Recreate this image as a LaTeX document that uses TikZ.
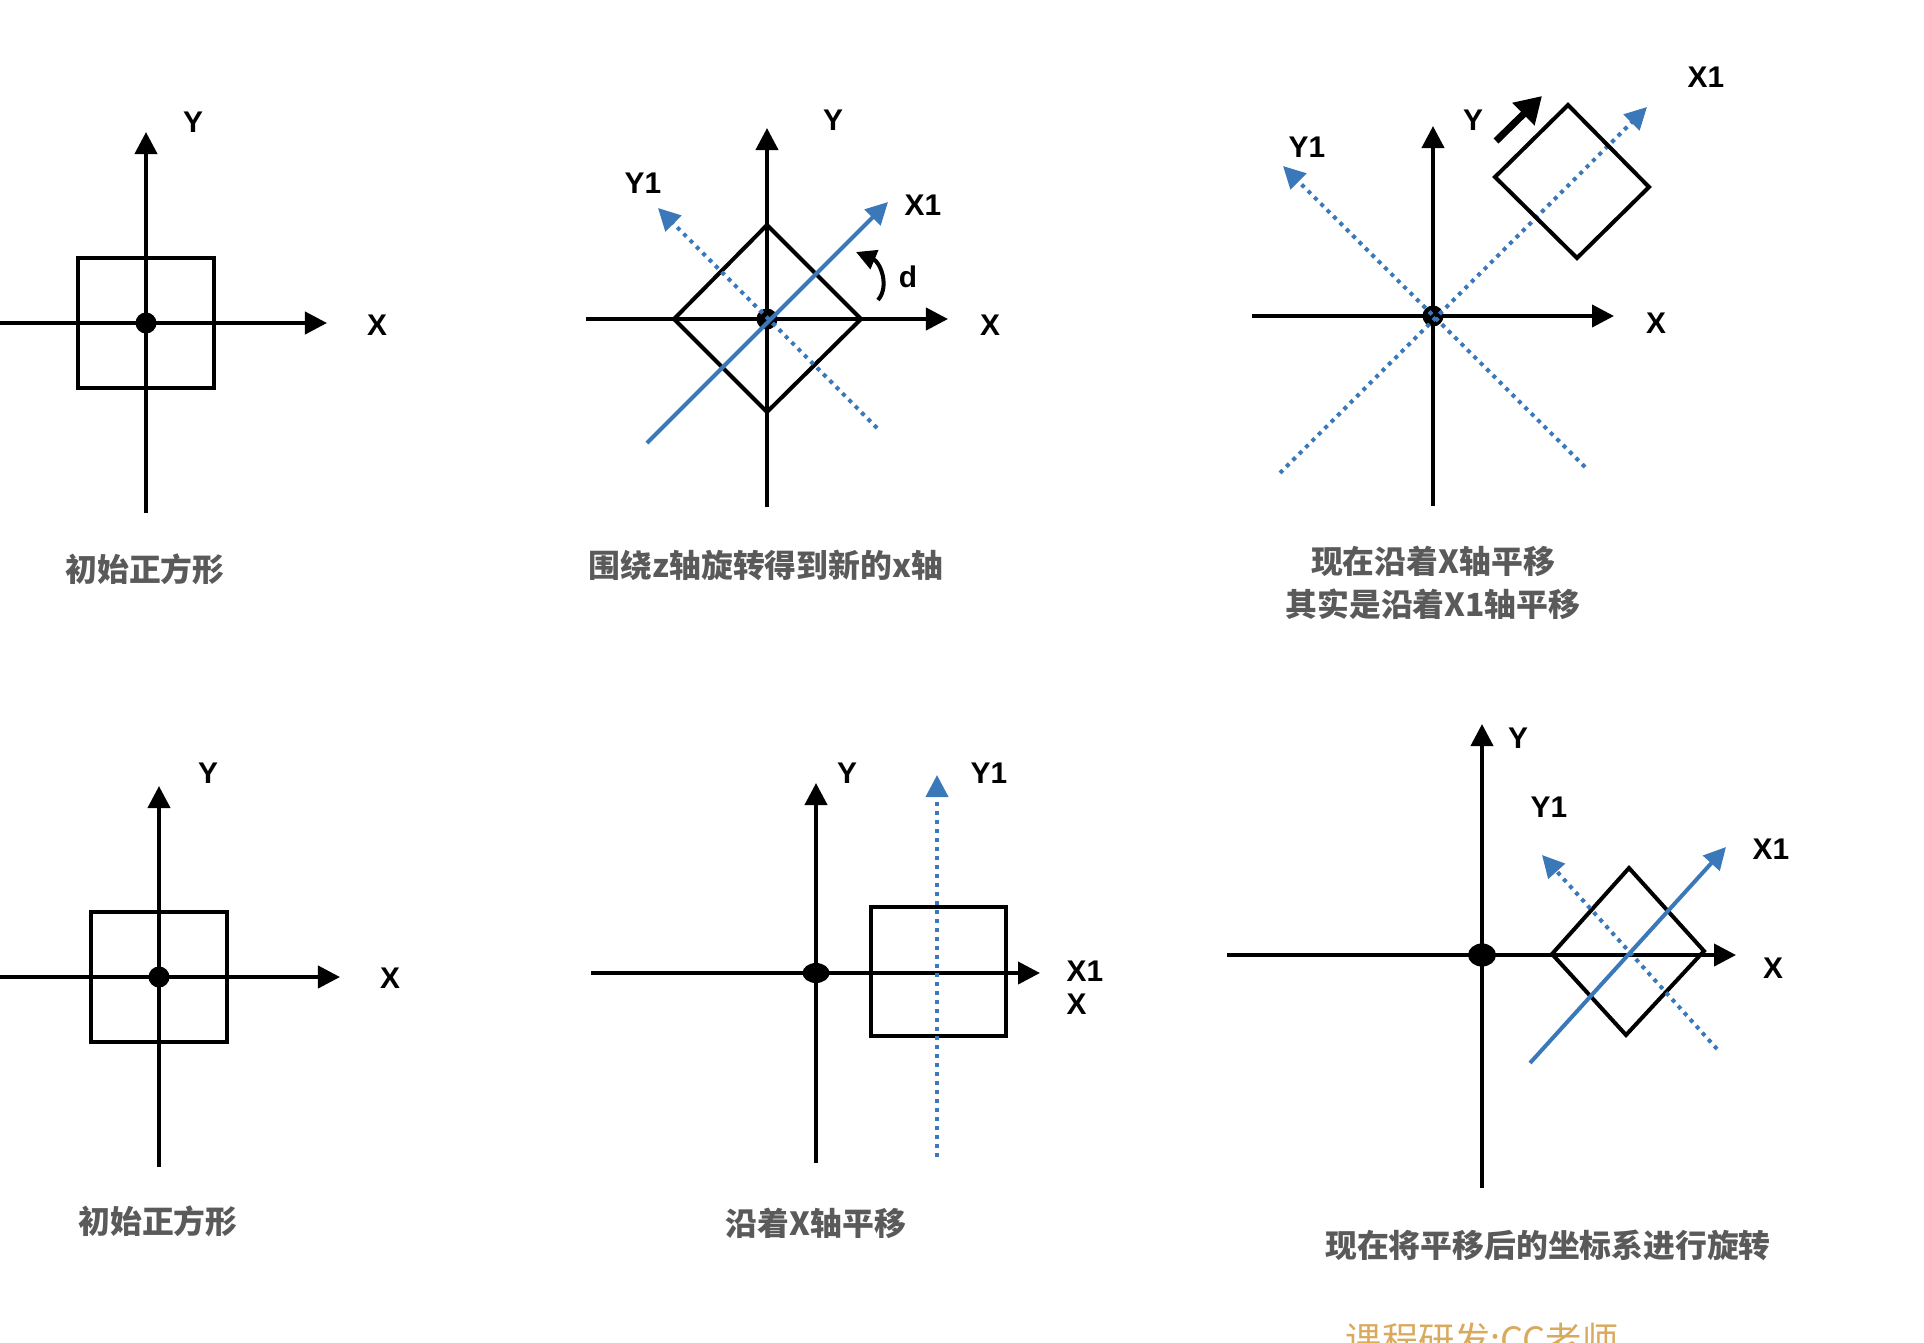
\documentclass[tikz,border=0pt]{standalone}
\usepackage{fontspec}
\setmainfont{Liberation Sans}
\newfontfamily\cjk{Noto Sans CJK SC}
\usepackage{xcolor}
\usetikzlibrary{arrows.meta, positioning, calc, shapes.geometric}
\definecolor{axisblue}{HTML}{3B78BA}
\definecolor{captiongray}{HTML}{5A5A5A}
\definecolor{creditgold}{HTML}{D9AA5E}

\begin{document}
\begin{tikzpicture}[x=0.01cm, y=-0.01cm,
    axis/.style={line width=0.04cm, -{Triangle[length=0.22cm, width=0.22cm]}},
    sq/.style={draw, line width=0.04cm, inner sep=0pt, minimum width=1.36cm, minimum height=1.29cm},
    edgeline/.style={line width=0.04cm, line join=miter},
    newaxis/.style={line width=0.04cm, axisblue, -{Triangle[length=0.22cm, width=0.22cm]}},
    dotaxis/.style={newaxis, dash pattern=on 0.04cm off 0.05cm},
    origin/.style={circle, fill=black, inner sep=0pt, minimum size=0.21cm},
    flatorigin/.style={ellipse, fill=black, inner sep=0pt, minimum width=0.27cm, minimum height=0.2cm},
    lbl/.style={font=\fontsize{8.5}{10}\selectfont\bfseries, inner sep=0pt},
    caption/.style={font=\cjk\bfseries\fontsize{9.05}{12.3}\selectfont, text=captiongray, inner sep=0pt, align=center}]

    \useasboundingbox (0,0) rectangle (1924,1342);
    \clip (0,0) rectangle (1924,1342);

    % initial square
    \coordinate (o1) at (146,323);
    \coordinate (w1) at (0,323);
    \coordinate (e1) at (327,323);
    \coordinate (n1) at (146,132);
    \coordinate (s1) at (146,513);
    \node[sq] (sq1) at (o1) {};
    \draw[axis] (w1) -- (e1);
    \draw[axis] (s1) -- (n1);
    \node[origin] (dot1) at (o1) {};
    \node[lbl] (x1) at (377,325) {X};
    \node[lbl] (y1) at (193,122) {Y};
    \node[caption] (cap1) at (145,569) {初始正方形};

    % rotate about z
    \coordinate (o2) at (767,319);
    \coordinate (w2) at (586,319);
    \coordinate (e2) at (948,319);
    \coordinate (n2) at (767,128);
    \coordinate (s2) at (767,507);
    \draw[edgeline] ($(o2)+(-93,0)$) -- ($(o2)+(0,-94)$) -- ($(o2)+(94,0)$) -- ($(o2)+(0,93)$) -- cycle;
    \draw[axis] (w2) -- (e2);
    \draw[axis] (s2) -- (n2);
    \node[origin] (dot2) at (o2) {};
    \coordinate (xa2) at (647,443);
    \coordinate (xb2) at (888,202);
    \coordinate (ya2) at (877,428);
    \coordinate (yb2) at (658,208);
    \draw[newaxis] (xa2) -- (xb2);
    \draw[dotaxis] (ya2) -- (yb2);
    \coordinate (da) at (878,300);
    \coordinate (db) at (856,252);
    \draw[line width=0.04cm, -{Triangle[length=0.2cm, width=0.2cm]}] (da) .. controls (890,286) and (880,262) .. (db);
    \node[lbl] (d2) at (908,277) {d};
    \node[lbl] (x2) at (990,325) {X};
    \node[lbl] (y2) at (833,120) {Y};
    \node[lbl] (xn2) at (923,205) {X1};
    \node[lbl] (yn2) at (643,183) {Y1};
    \node[caption] (cap2) at (766,565) {围绕z轴旋转得到新的x轴};

    % move along X
    \coordinate (o3) at (1433,316);
    \coordinate (w3) at (1252,316);
    \coordinate (e3) at (1614,316);
    \coordinate (n3) at (1433,126);
    \coordinate (s3) at (1433,506);
    \draw[axis] (w3) -- (e3);
    \draw[axis] (s3) -- (n3);
    \node[origin] (dot3) at (o3) {};
    \coordinate (xa3) at (1280,473);
    \coordinate (xb3) at (1647,107);
    \coordinate (ya3) at (1585,467);
    \coordinate (yb3) at (1283,166);
    \draw[dotaxis] (xa3) -- (xb3);
    \draw[dotaxis] (ya3) -- (yb3);
    \draw[edgeline] (1568,105) -- (1649,187) -- (1577,258) -- (1495,177) -- cycle;
    \coordinate (ma) at (1496,141);
    \coordinate (mb) at (1542,96);
    \draw[line width=0.07cm, -{Triangle[length=0.26cm, width=0.3cm]}] (ma) -- (mb);
    \node[lbl] (x3) at (1656,323) {X};
    \node[lbl] (y3) at (1473,120) {Y};
    \node[lbl] (xn3) at (1706,77) {X1};
    \node[lbl] (yn3) at (1307,147) {Y1};
    \node[caption, font=\cjk\bfseries\fontsize{9.05}{12.2}\selectfont] (cap3) at (1433,583) {现在沿着X轴平移\\其实是沿着X1轴平移};

    % initial square again
    \coordinate (o4) at (159,977);
    \coordinate (w4) at (0,977);
    \coordinate (e4) at (340,977);
    \coordinate (n4) at (159,786);
    \coordinate (s4) at (159,1167);
    \node[sq] (sq4) at (o4) {};
    \draw[axis] (w4) -- (e4);
    \draw[axis] (s4) -- (n4);
    \node[origin] (dot4) at (o4) {};
    \node[lbl] (x4) at (390,978) {X};
    \node[lbl] (y4) at (208,773) {Y};
    \node[caption] (cap4) at (158,1221) {初始正方形};

    % translated
    \coordinate (o5) at (816,973);
    \coordinate (w5) at (591,973);
    \coordinate (e5) at (1040,973);
    \coordinate (n5) at (816,783);
    \coordinate (s5) at (816,1163);
    \node[sq, minimum width=1.35cm] (sq5) at (938.5,971.5) {};
    \draw[axis] (w5) -- (e5);
    \draw[axis] (s5) -- (n5);
    \node[flatorigin] (dot5) at (o5) {};
    \coordinate (ya5) at (937,1157);
    \coordinate (yb5) at (937,775);
    \draw[dotaxis] (ya5) -- (yb5);
    \node[lbl, anchor=west] (xn5) at (1066,971) {X1};
    \node[lbl, anchor=west] (x5) at (1066,1004) {X};
    \node[lbl] (y5) at (847,773) {Y};
    \node[lbl] (yn5) at (989,773) {Y1};
    \node[caption] (cap5) at (816,1223) {沿着X轴平移};

    % rotate the moved frame
    \coordinate (o6) at (1482,955);
    \coordinate (w6) at (1227,955);
    \coordinate (e6) at (1736,955);
    \coordinate (n6) at (1482,724);
    \coordinate (s6) at (1482,1188);
    \draw[edgeline] (1552,954) -- (1629,868) -- (1704,951) -- (1626,1035) -- cycle;
    \draw[axis] (w6) -- (e6);
    \draw[axis] (s6) -- (n6);
    \node[flatorigin, minimum width=0.28cm, minimum height=0.23cm] (dot6) at (o6) {};
    \coordinate (xa6) at (1530,1063);
    \coordinate (xb6) at (1726,847);
    \coordinate (ya6) at (1717,1049);
    \coordinate (yb6) at (1542,855);
    \draw[newaxis] (xa6) -- (xb6);
    \draw[dotaxis] (ya6) -- (yb6);
    \node[lbl] (x6) at (1773,968) {X};
    \node[lbl] (y6) at (1518,738) {Y};
    \node[lbl] (xn6) at (1771,849) {X1};
    \node[lbl] (yn6) at (1549,807) {Y1};
    \node[caption] (cap6) at (1548,1245) {现在将平移后的坐标系进行旋转};

    \node[font=\cjk\fontsize{10.3}{12}\selectfont, text=creditgold, inner sep=0pt, anchor=base] (credit) at (1482,1353) {课程研发:CC老师};
\end{tikzpicture}
\end{document}
